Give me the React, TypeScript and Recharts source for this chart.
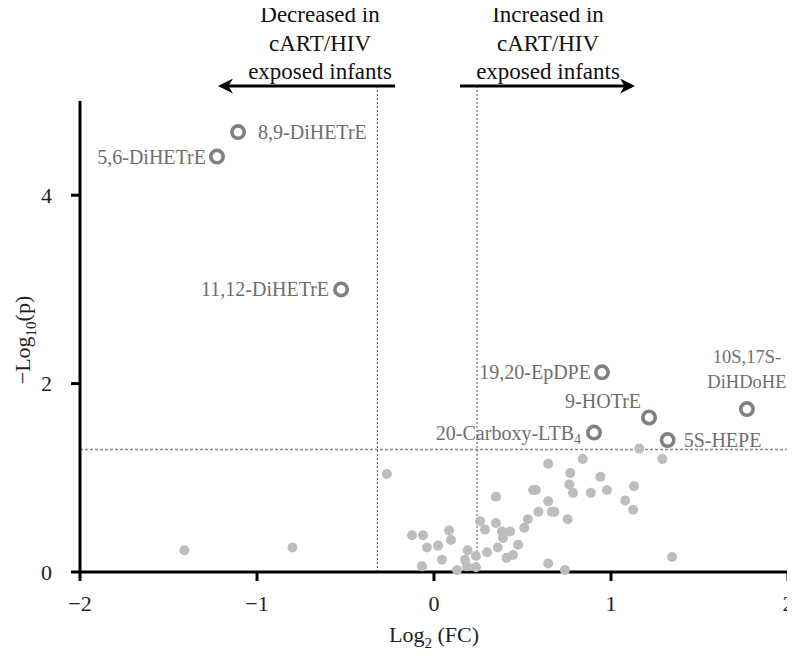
import {
  ScatterChart,
  Scatter,
  XAxis,
  YAxis,
  ReferenceLine,
} from "recharts";

// background metabolites (not significant)
const bgLog2FC = [
  -1.41, -0.8, -0.266, -0.124, -0.062, -0.068, -0.04, 0.023, 0.045, 0.085,
  0.096, 0.13, 0.175, 0.186, 0.19, 0.237, 0.237, 0.26, 0.288, 0.3, 0.35, 0.35,
  0.36, 0.384, 0.39, 0.41, 0.43, 0.446, 0.475, 0.51, 0.53, 0.56, 0.575, 0.59,
  0.645, 0.645, 0.645, 0.665, 0.68, 0.74, 0.755, 0.765, 0.77, 0.785, 0.84,
  0.886, 0.94, 0.977, 1.08, 1.125, 1.13, 1.16, 1.29, 1.345,
];
const bgNegLogP = [
  0.23, 0.26, 1.04, 0.39, 0.39, 0.06, 0.26, 0.28, 0.13, 0.44, 0.34, 0.02, 0.13,
  0.06, 0.23, 0.17, 0.05, 0.54, 0.45, 0.21, 0.8, 0.52, 0.26, 0.43, 0.36, 0.15,
  0.43, 0.18, 0.29, 0.47, 0.56, 0.87, 0.87, 0.64, 1.15, 0.75, 0.09, 0.64, 0.64,
  0.02, 0.56, 0.93, 1.05, 0.84, 1.2, 0.84, 1.01, 0.87, 0.76, 0.66, 0.91, 1.31,
  1.2, 0.16,
];

// significant metabolites
const hitNames = [
  "8,9-DiHETrE",
  "5,6-DiHETrE",
  "11,12-DiHETrE",
  "19,20-EpDPE",
  "9-HOTrE",
  "20-Carboxy-LTB4",
  "5S-HEPE",
  "10S,17S-DiHDoHE",
];
const hitLog2FC = [-1.107, -1.226, -0.525, 0.949, 1.215, 0.904, 1.32, 1.768];
const hitNegLogP = [4.67, 4.41, 3.0, 2.12, 1.64, 1.48, 1.4, 1.73];

const xTicks = [-2, -1, 0, 1, 2];
const yTicks = [0, 2, 4];
const fcCutLow = -0.32;
const fcCutHigh = 0.243;
const pCut = 1.301;

const bgData = bgLog2FC.map((x, i) => ({ x, y: bgNegLogP[i] }));
const hitData = hitNames.map((name, i) => ({
  name,
  x: hitLog2FC[i],
  y: hitNegLogP[i],
}));

const FONT = '"Liberation Serif", "DejaVu Serif", serif';
const LABEL_COLOR = "#6e6e6e";
const LABEL_SIZE = 20;

// where each label sits relative to its ring
const labelPlace: Record<string, { dx: number; dy: number; anchor: string }> = {
  "8,9-DiHETrE": { dx: 20, dy: 0, anchor: "start" },
  "5,6-DiHETrE": { dx: -11, dy: 0, anchor: "end" },
  "11,12-DiHETrE": { dx: -12, dy: 0, anchor: "end" },
  "19,20-EpDPE": { dx: -11, dy: 0, anchor: "end" },
  "9-HOTrE": { dx: -8, dy: -17, anchor: "end" },
  "20-Carboxy-LTB4": { dx: -13, dy: 0, anchor: "end" },
  "5S-HEPE": { dx: 16, dy: 0, anchor: "start" },
};

const Ring = (props: any) => {
  const { cx, cy, payload } = props;
  const name: string = payload.name;
  const place = labelPlace[name];
  let label;
  if (name === "10S,17S-DiHDoHE") {
    label = (
      <text
        x={cx}
        y={cy}
        textAnchor="middle"
        fontSize={18.5}
        fontFamily={FONT}
        fill={LABEL_COLOR}
      >
        <tspan x={cx} dy={-46}>10S,17S-</tspan>
        <tspan x={cx} dy={25}>DiHDoHE</tspan>
      </text>
    );
  } else if (name === "20-Carboxy-LTB4") {
    label = (
      <text
        x={cx + place.dx}
        y={cy + place.dy}
        textAnchor={place.anchor}
        dominantBaseline="central"
        fontSize={LABEL_SIZE}
        fontFamily={FONT}
        fill={LABEL_COLOR}
      >
        20-Carboxy-LTB
        <tspan fontSize={14} dy={6}>4</tspan>
      </text>
    );
  } else {
    label = (
      <text
        x={cx + place.dx}
        y={cy + place.dy}
        textAnchor={place.anchor}
        dominantBaseline="central"
        fontSize={LABEL_SIZE}
        fontFamily={FONT}
        fill={LABEL_COLOR}
      >
        {name}
      </text>
    );
  }
  return (
    <g>
      <circle cx={cx} cy={cy} r={6.2} fill="#fff" stroke="#808080" strokeWidth={3.6} />
      {label}
    </g>
  );
};

const Dot = (props: any) => (
  <circle cx={props.cx} cy={props.cy} r={5} fill="#bdbdba" />
);

const fmtTick = (v: number) => (v < 0 ? `\u2212${Math.abs(v)}` : `${v}`);

const XTick = (props: any) => {
  const { x, y, payload } = props;
  return (
    <text
      x={x}
      y={y + 28}
      textAnchor="middle"
      fontSize={22}
      fontFamily={FONT}
      fill="#222"
    >
      {fmtTick(payload.value)}
    </text>
  );
};

const YTick = (props: any) => {
  const { x, y, payload } = props;
  return (
    <text
      x={x - 17}
      y={y}
      textAnchor="end"
      dominantBaseline="central"
      fontSize={22}
      fontFamily={FONT}
      fill="#222"
    >
      {fmtTick(payload.value)}
    </text>
  );
};

export default function App() {
  return (
    <div
      style={{
        position: "relative",
        width: 795,
        height: 650,
        margin: "-8px 0 0 -8px",
        fontFamily: FONT,
      }}
    >
      <ScatterChart
        width={795}
        height={650}
        margin={{ top: 101, right: 7, left: 20, bottom: 28 }}
      >
        <XAxis
          type="number"
          dataKey="x"
          domain={[-2, 2]}
          ticks={xTicks}
          height={50}
          axisLine={{ stroke: "#000", strokeWidth: 3 }}
          tickLine={{ stroke: "#000", strokeWidth: 3 }}
          tickSize={9}
          tick={<XTick />}
        />
        <YAxis
          type="number"
          dataKey="y"
          domain={[0, 5]}
          ticks={yTicks}
          width={60}
          axisLine={{ stroke: "#000", strokeWidth: 3 }}
          tickLine={{ stroke: "#000", strokeWidth: 3 }}
          tickSize={9}
          tick={<YTick />}
        />
        <ReferenceLine
          y={pCut}
          stroke="#8a8a8a"
          strokeWidth={1.5}
          strokeDasharray="3 2"
        />
        <ReferenceLine
          segment={[
            { x: fcCutLow, y: 0 },
            { x: fcCutLow, y: 5.16 },
          ]}
          ifOverflow="visible"
          stroke="#555"
          strokeWidth={1}
          strokeDasharray="2 2"
        />
        <ReferenceLine
          segment={[
            { x: fcCutHigh, y: 0 },
            { x: fcCutHigh, y: 5.16 },
          ]}
          ifOverflow="visible"
          stroke="#555"
          strokeWidth={1}
          strokeDasharray="2 2"
        />
        <Scatter data={bgData} shape={Dot} isAnimationActive={false} />
        <Scatter data={hitData} shape={Ring} isAnimationActive={false} />
      </ScatterChart>

      <svg
        width={795}
        height={650}
        style={{ position: "absolute", left: 0, top: 0, pointerEvents: "none" }}
        fontFamily={FONT}
      >
        <defs>
          <marker
            id="arrowHead"
            viewBox="0 0 10 10"
            refX="8"
            refY="5"
            markerWidth="5"
            markerHeight="5"
            orient="auto"
          >
            <path d="M0,0 L10,5 L0,10 L3,5 z" fill="#000" />
          </marker>
        </defs>
        <g fontSize={23} fill="#111" textAnchor="middle">
          <text x={320} y={22}>Decreased in</text>
          <text x={320} y={51}>cART/HIV</text>
          <text x={320} y={79}>exposed infants</text>
          <text x={548} y={22}>Increased in</text>
          <text x={548} y={51}>cART/HIV</text>
          <text x={548} y={79}>exposed infants</text>
        </g>
        <line
          x1={395}
          y1={86}
          x2={221}
          y2={86}
          stroke="#000"
          strokeWidth={3}
          markerEnd="url(#arrowHead)"
        />
        <line
          x1={460}
          y1={86}
          x2={632}
          y2={86}
          stroke="#000"
          strokeWidth={3}
          markerEnd="url(#arrowHead)"
        />
        <text x={434} y={642} textAnchor="middle" fontSize={22} fill="#222">
          Log<tspan fontSize={15} dy={6}>2</tspan>
          <tspan dy={-6}> (FC)</tspan>
        </text>
        <text
          transform="translate(30,340) rotate(-90)"
          textAnchor="middle"
          fontSize={22}
          fill="#222"
        >
          {"\u2212Log"}
          <tspan fontSize={15} dy={6}>10</tspan>
          <tspan dy={-6}>(p)</tspan>
        </text>
      </svg>
    </div>
  );
}
